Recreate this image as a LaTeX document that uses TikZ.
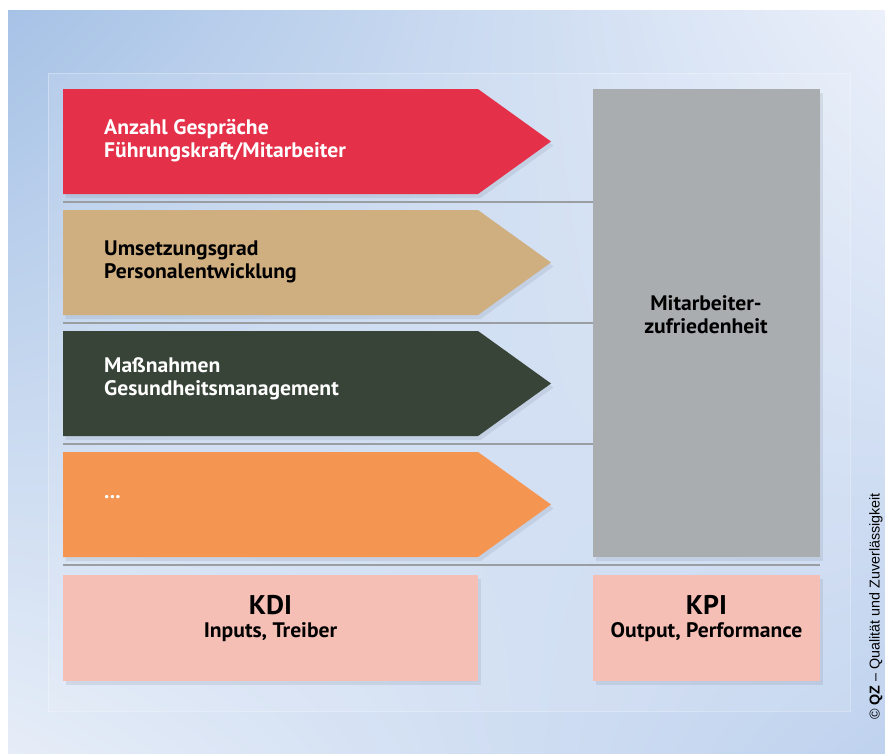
\documentclass[tikz,border=0pt]{standalone}
\usepackage{fontspec}
\setmainfont{PT Sans}[FakeStretch=1.03]
\newfontfamily\arialfont{Liberation Sans}
\usetikzlibrary{shadows,shadings}
\definecolor{cred}{HTML}{E5304A}
\definecolor{ctan}{HTML}{CFAE80}
\definecolor{cdark}{HTML}{384438}
\definecolor{corange}{HTML}{F59552}
\definecolor{cgray}{HTML}{A9ADB0}
\definecolor{cpink}{HTML}{F5BFB5}
\definecolor{cline}{HTML}{9A9EA1}
\definecolor{bgA}{HTML}{A6C2E6}
\definecolor{bgB}{HTML}{EBF0FA}
\definecolor{bgC}{HTML}{E6EDF8}
\definecolor{bgD}{HTML}{BFD2EE}
\definecolor{shcol}{HTML}{5A6478}
\begin{document}
\begin{tikzpicture}[x=1pt,y=-1pt,
  shad/.style={drop shadow={shadow xshift=2.5pt,shadow yshift=-4pt,opacity=0.13,fill=shcol}},
  arrowtxt/.style={anchor=west,align=left,font=\bfseries\fontsize{21}{23}\selectfont,inner sep=0pt},
  sepline/.style={draw=cline,line width=2.5pt},
  boxtxt/.style={align=center,inner sep=0pt,font=\bfseries\fontsize{21}{23}\selectfont}
]
\useasboundingbox (0,0) rectangle (885,753);
\fill[white] (0,0) rectangle (885,753);
\shade[upper left=bgA,upper right=bgB,lower left=bgC,lower right=bgD] (8,10) rectangle (885,753);
% faint panel
\fill[white,opacity=0.1] (48,73) rectangle (850,711);
\draw[white,opacity=0.3,line width=0.6pt] (48,73) rectangle (850,711);

% gray box
\fill[cgray,shad] (593,89) rectangle (820,557);
\node[boxtxt,text=black] (kpitop) at (706,315) {Mitarbeiter-\\zufriedenheit};

% arrows
\foreach \y/\c in {89/cred,210/ctan,331/cdark,452/corange}{
  \fill[\c,shad] (63,\y) -- (478,\y) -- (551,\y+52.5) -- (478,\y+105) -- (63,\y+105) -- cycle;
}
\node[arrowtxt,text=white] (a1) at (104,141) {Anzahl Gespräche\\Führungskraft/Mitarbeiter};
\node[arrowtxt,text=black] (a2) at (104,262) {Umsetzungsgrad\\Personalentwicklung};
\node[arrowtxt,text=white] (a3) at (104,379) {Maßnahmen\\Gesundheitsmanagement};
\node[arrowtxt,text=white] (a4) at (104,497) {...};

% separator lines
\draw[sepline] (63,202) -- (593,202);
\draw[sepline] (63,323) -- (593,323);
\draw[sepline] (63,444) -- (593,444);
\draw[sepline] (63,565) -- (820,565);

% bottom boxes
\fill[cpink,shad] (63,575) rectangle (478,681);
\fill[cpink,shad] (593,575) rectangle (820,681);
\node[boxtxt] (kdi) at (270.5,619) {{\fontsize{27}{27}\selectfont KDI}\\Inputs, Treiber};
\node[boxtxt] (kpi) at (706.5,619) {{\fontsize{27}{27}\selectfont KPI}\\Output, Performance};

% copyright
\node[rotate=90,anchor=west,inner sep=0pt,font=\arialfont\fontsize{14.3}{16}\selectfont] (copy) at (876,720) {\textcopyright{} \textbf{QZ} – Qualität und Zuverlässigkeit};
\end{tikzpicture}
\end{document}
